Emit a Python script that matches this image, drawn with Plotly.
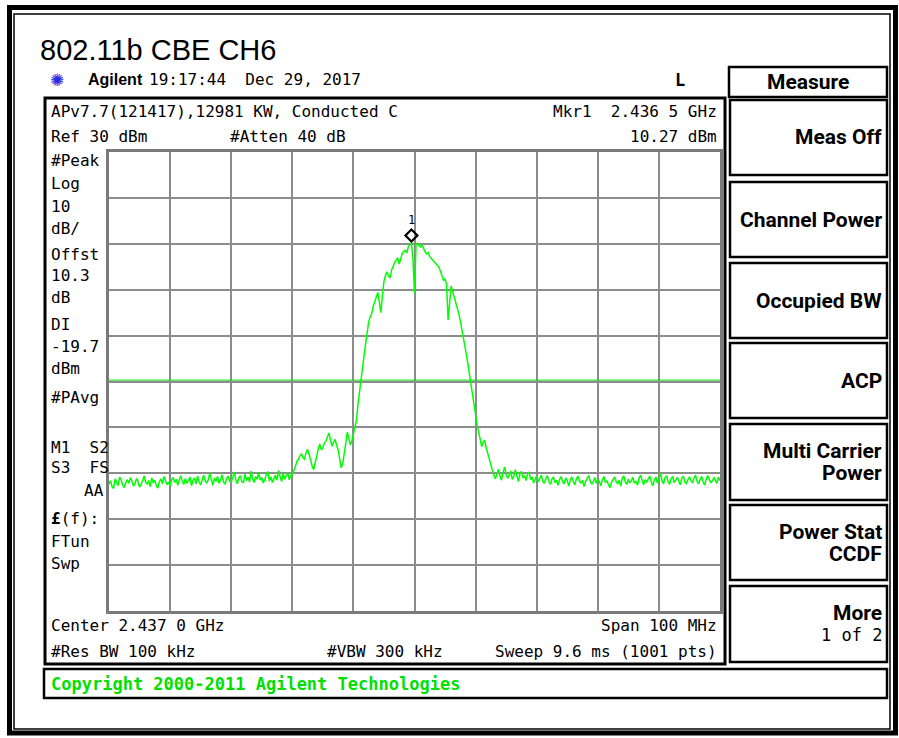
import plotly.graph_objects as go

# ---------------- data ----------------
start_freq_mhz = 2387.0
stop_freq_mhz = 2487.0
ref_level = 30
db_per_div = 10
display_line = -19.7
marker_freq = 2436.5
marker_level = 10.27

noise_left = [
    -42.4, -41.6, -42.9, -43.3, -41.2, -41.9, -42.7, -40.8, -41.5, -42.6,
    -43.1, -42.0, -41.4, -42.2, -40.9, -41.7, -42.8, -42.3, -41.1, -41.8,
    -43.0, -42.5, -41.3, -40.6, -41.9, -42.4, -41.6, -42.9, -41.0, -42.1,
    -41.5, -42.7, -43.2, -41.8, -41.2, -42.3, -40.7, -41.6, -42.5, -41.9,
    -42.8, -41.4, -40.9, -42.0, -41.3, -42.6, -41.7, -40.5, -41.8, -42.4,
    -41.1, -42.2, -41.6, -40.8, -42.7, -41.5, -41.0, -42.3, -40.6, -41.9,
    -42.5, -41.2, -40.4, -41.7, -42.1, -41.4, -39.9, -41.3, -42.6, -41.0,
    -41.8, -40.7, -42.2, -41.5, -40.3, -41.9, -42.4, -41.1, -40.6, -41.7,
    -42.0, -40.9, -39.7, -41.4, -42.3, -41.0, -40.5, -41.8, -42.1, -40.2,
    -41.6, -40.8, -41.9, -39.5, -41.2, -42.0, -40.7, -41.3, -39.8, -41.5,
    -40.9, -42.1, -41.4, -40.3, -39.6, -41.7, -40.8, -42.0, -41.2, -40.4,
    -41.5, -39.4, -40.7, -41.8, -40.1, -41.3, -40.6, -39.9, -41.4, -40.5,
]
shoulder_left = [
    -40.2, -39.5, -38.6, -37.4, -37.0, -36.2, -35.8, -36.6, -36.9, -35.5,
    -34.8, -35.9, -37.5, -38.4, -39.2, -37.6, -36.1, -34.7, -33.6, -34.9,
    -34.5, -33.4, -33.0, -32.1, -31.2, -32.7, -34.1, -33.2, -32.6, -33.9,
    -34.9, -36.8, -38.8, -37.9, -36.0, -33.5, -31.0, -32.2, -33.8, -32.9,
    -31.5, -30.2,
]
main_lobe = [
    -28.5, -25.0, -22.0, -19.6, -17.5, -14.3, -11.8, -9.0, -7.0, -5.9,
    -5.2, -3.6, -2.4, -1.3, -0.6, -2.8, -5.0, -1.2, 1.8, 3.1,
    3.9, 3.0, 2.6, 4.3, 5.2, 5.9, 6.4, 6.9, 5.6, 7.1,
    7.9, 8.3, 8.6, 8.0, 9.4, 9.8, 10.27, 6.5, -0.8, 9.9,
    10.1, 9.6, 9.3, 9.7, 8.9, 8.2, 7.8, 8.1, 7.2, 6.8,
    6.5, 6.0, 5.7, 5.2, 4.9, 4.0, 3.2, 2.0, 2.4, 1.1,
    -6.6, -2.0, 0.8, -0.4, -1.5, -2.9, -3.8, -5.2, -6.8, -8.5,
    -10.5, -12.4, -14.2, -16.2, -18.6, -21.0, -23.5, -25.6, -27.4, -29.5,
    -31.0, -32.9, -34.2, -33.1, -32.8, -34.6, -35.6, -36.9, -38.2, -39.4,
    -40.5,
]
noise_right = [
    -41.2, -40.3, -39.1, -40.6, -41.5, -39.8, -38.6, -40.2, -41.1, -40.4,
    -39.5, -41.3, -40.7, -39.2, -40.9, -41.8, -40.1, -39.6, -41.0, -40.5,
    -41.6, -40.2, -39.7, -41.4, -40.8, -42.1, -41.3, -40.6, -41.9, -41.0,
    -40.4, -41.7, -42.2, -41.1, -40.5, -41.8, -42.4, -41.2, -40.9, -42.0,
    -41.5, -42.6, -41.3, -40.7, -41.9, -42.3, -41.0, -41.6, -42.8, -41.4,
    -40.8, -41.9, -42.5, -41.2, -40.6, -41.7, -42.1, -41.5, -42.9, -41.8,
    -41.1, -40.5, -41.6, -42.4, -41.9, -40.9, -42.2, -41.3, -41.8, -42.7,
    -41.4, -40.7, -42.0, -41.6, -42.5, -43.1, -41.9, -41.2, -40.8, -41.7,
    -42.3, -41.5, -42.8, -41.0, -40.6, -41.9, -42.4, -41.3, -42.1, -41.6,
    -40.9, -42.2, -41.7, -42.6, -41.1, -40.4, -41.8, -42.5, -41.4, -42.0,
    -41.2, -40.6, -41.9, -42.7, -41.5, -40.8, -42.1, -41.3, -39.9, -41.6,
    -42.3, -41.0, -40.5, -41.8, -42.4, -41.2, -40.7, -42.0, -41.5, -40.9,
    -41.7, -42.5, -41.1, -40.6, -41.9, -42.2, -41.4, -40.8, -41.6, -42.1,
    -41.0, -40.4, -41.8, -42.3, -41.3, -40.7, -41.9, -42.6, -41.2, -40.5,
    -41.4, -42.0, -41.7, -40.9, -41.5, -42.2, -40.8, -41.6,
]
level_dbm = noise_left + shoulder_left + main_lobe + noise_right
n_pts = len(level_dbm)
step = (stop_freq_mhz - start_freq_mhz) / (n_pts - 1)
freq_mhz = [start_freq_mhz + i * step for i in range(n_pts)]

left_labels = [
    ("#Peak", 160), ("Log", 183), ("10", 206), ("dB/", 228), ("Offst", 254),
    ("10.3", 275), ("dB", 297), ("DI", 324), ("-19.7", 346), ("dBm", 368),
    ("#PAvg", 397), ("M1  S2", 447), ("S3  FS", 468), ("<b>£</b>(f):", 518),
    ("FTun", 541), ("Swp", 563),
]
softkeys = [
    (100, 175, ["Meas Off"]),
    (182, 257, ["Channel Power"]),
    (263, 338, ["Occupied BW"]),
    (343, 418, ["ACP"]),
    (424, 500, ["Multi Carrier", "Power"]),
    (505, 580, ["Power Stat", "CCDF"]),
    (586, 662, ["More", "1 of 2"]),
]

# ---------------- geometry helpers ----------------
W, H = 899, 738
L, R, T, B = 109, 720, 152, 611


def px(x):
    return (x - L) / (R - L)


def py(y):
    return (B - y) / (B - T)


MONO = "DejaVu Sans Mono"
fig = go.Figure()

fig.add_trace(go.Scatter(
    x=freq_mhz, y=level_dbm, mode="lines",
    line=dict(color="#00ff00", width=1.5), hoverinfo="skip", showlegend=False,
))

fig.update_layout(
    width=W, height=H, autosize=False,
    margin=dict(l=L, r=W - R, t=T, b=H - B, pad=0),
    paper_bgcolor="white", plot_bgcolor="white",
    showlegend=False,
)
fig.update_xaxes(
    range=[start_freq_mhz, stop_freq_mhz], dtick=10, tick0=start_freq_mhz,
    showticklabels=False, ticks="", showgrid=True, gridcolor="#8c8c8c",
    gridwidth=2, zeroline=False, showline=True, linecolor="#7a7a7a",
    linewidth=3, mirror=True, fixedrange=True,
)
fig.update_yaxes(
    range=[ref_level - 10 * db_per_div, ref_level], dtick=db_per_div,
    tick0=ref_level, showticklabels=False, ticks="", showgrid=True,
    gridcolor="#8c8c8c", gridwidth=2, zeroline=False, showline=True,
    linecolor="#7a7a7a", linewidth=3, mirror=True, fixedrange=True,
)

shapes = []
# display line
shapes.append(dict(type="line", xref="x", yref="y", x0=start_freq_mhz,
                   x1=stop_freq_mhz, y0=display_line, y1=display_line,
                   line=dict(color="#00e000", width=1)))
# marker 1 diamond, anchored at the marker point, sized in pixels
shapes.append(dict(type="path", xref="x", yref="y",
                   xsizemode="pixel", ysizemode="pixel",
                   xanchor=marker_freq, yanchor=marker_level,
                   path="M0,1 L6,7 L0,13 L-6,7 Z",
                   line=dict(color="black", width=2.2),
                   fillcolor="rgba(0,0,0,0)", layer="above"))


def rect(x0, y0, x1, y1, w=2.5, color="black"):
    shapes.append(dict(type="rect", xref="paper", yref="paper",
                       x0=px(x0), x1=px(x1), y0=py(y1), y1=py(y0),
                       line=dict(color=color, width=w), layer="above"))


# outer frame
rect(9.5, 7.5, 895.5, 733, w=5)
rect(14, 14, 890, 729, w=1.5)
# instrument display box
rect(45, 98, 725, 664, w=3)
# Measure title box
rect(729, 67, 887, 97, w=2.5)
# softkey boxes
for top, bot, _ in softkeys:
    rect(730, top, 887, bot, w=2.5)
# copyright box
rect(44, 669, 887, 698, w=2.5)

annotations = []


def text(x, y, s, size=16, family=MONO, anchor="left", color="black",
         bold=False):
    if bold:
        s = "<b>" + s + "</b>"
    annotations.append(dict(xref="paper", yref="paper", x=px(x), y=py(y),
                            text=s, showarrow=False, xanchor=anchor,
                            yanchor="middle", align=anchor,
                            font=dict(family=family, size=size, color=color)))


text(38, 50, "802.11b CBE CH6", size=29, family="Liberation Sans, Arial")
text(48, 80, "✺", size=17, family="DejaVu Sans", color="#2a2ae0")
text(86, 80, "Agilent", size=16, family="Liberation Sans, Arial", bold=True)
text(147, 80, "19:17:44  Dec 29, 2017", size=16)
text(673, 80, "L", size=17, bold=True)
text(808, 82, "Measure", size=21, family="Roboto", anchor="center", bold=True)

text(49, 112, "APv7.7(121417),12981 KW, Conducted C")
text(49, 136, "Ref 30 dBm")
text(228, 136, "#Atten 40 dB")
text(719, 112, "Mkr1  2.436 5 GHz", anchor="right")
text(719, 136, "10.27 dBm", anchor="right")

for s, y in left_labels:
    text(49, y, s)
text(106, 490, "AA", anchor="right")

text(49, 625, "Center 2.437 0 GHz")
text(719, 625, "Span 100 MHz", anchor="right")
text(49, 651, "#Res BW 100 kHz")
text(325, 651, "#VBW 300 kHz")
text(719, 651, "Sweep 9.6 ms (1001 pts)", anchor="right")

text(49, 684, "Copyright 2000-2011 Agilent Technologies", size=17,
     color="#00e000", bold=True)

for top, bot, lines in softkeys:
    mid = (top + bot) / 2
    if len(lines) == 1:
        text(884, mid, lines[0], size=21, family="Roboto", anchor="right",
             bold=True)
    else:
        text(884, mid - 11, lines[0], size=21, family="Roboto",
             anchor="right", bold=True)
        if lines[1] == "1 of 2":
            text(884, mid + 11, lines[1], size=17, anchor="right")
        else:
            text(884, mid + 11, lines[1], size=21, family="Roboto",
                 anchor="right", bold=True)

# marker 1 label
annotations.append(dict(xref="x", yref="y", x=marker_freq, y=marker_level,
                        text="1", showarrow=False, yshift=23,
                        font=dict(family="DejaVu Sans Mono", size=12,
                                  color="black")))

fig.update_layout(shapes=shapes, annotations=annotations)
fig.write_html("out.html",
               config={"displayModeBar": False},
               post_script="document.body.style.margin='0px';")
